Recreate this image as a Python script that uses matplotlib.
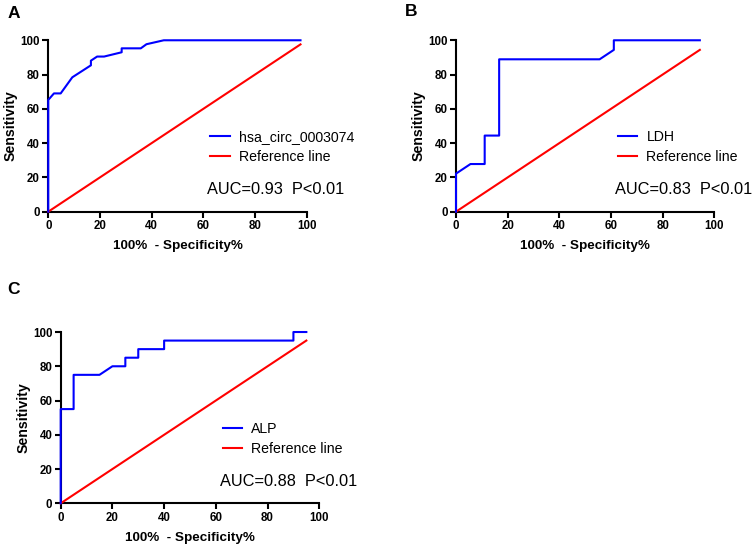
import matplotlib
matplotlib.use("Agg")
import matplotlib.pyplot as plt

plt.rcParams['font.family'] = ['Liberation Sans', 'DejaVu Sans']

# panel A: hsa_circ_0003074
a_fpr = [0, 0, 2.2, 4.8, 9.3, 16.5, 16.5, 18.9, 21.6, 28.4, 28.4, 35.8, 38.0, 44.7, 97.6]
a_sens = [0, 65.2, 69.0, 69.0, 78.4, 85.4, 88.1, 90.5, 90.5, 93.0, 95.3, 95.3, 97.7, 100, 100]
a_ref = [0, 97.6]

# panel B: LDH
b_fpr = [0, 0, 5.6, 11.1, 11.1, 16.7, 16.7, 55.6, 61.1, 61.1, 94.4]
b_sens = [0, 22.2, 27.8, 27.8, 44.4, 44.4, 88.9, 88.9, 94.4, 100, 100]
b_ref = [0, 94.4]

# panel C: ALP
c_fpr = [0, 0, 5, 5, 15, 20, 25, 25, 30, 30, 40, 40, 90, 90, 95]
c_sens = [0, 55, 55, 75, 75, 80, 80, 85, 85, 90, 90, 95, 95, 100, 100]
c_ref = [0, 95]

panels = [
    ('A', 'hsa_circ_0003074', a_fpr, a_sens, a_ref, 'AUC=0.93  P<0.01', [0.0641, 0.6116, 0.3432, 0.3145], (14, 13.5)),
    ('B', 'LDH', b_fpr, b_sens, b_ref, 'AUC=0.83  P<0.01', [0.6056, 0.6116, 0.3430, 0.3145], (411.5, 11)),
    ('C', 'ALP', c_fpr, c_sens, c_ref, 'AUC=0.88  P<0.01', [0.0806, 0.0765, 0.3434, 0.3143], (14, 289)),
]

W, H = 753, 545
fig = plt.figure(figsize=(W / 100, H / 100), dpi=100)

for letter, name, fpr, sens, ref, auc, pos, lab in panels:
    ax = fig.add_axes(pos)
    ax.plot(fpr, sens, color='#0000FF', lw=1.5, clip_on=False, zorder=5, label=name)
    ax.plot(ref, ref, color='#FF0000', lw=1.5, clip_on=False, zorder=4, label='Reference line')
    ax.set_xlim(0, 100)
    ax.set_ylim(0, 100)
    ax.set_xticks(range(0, 101, 20))
    ax.set_yticks(range(0, 101, 20))
    for s in ['top', 'right']:
        ax.spines[s].set_visible(False)
    for s in ['left', 'bottom']:
        ax.spines[s].set_linewidth(1.5)
    ax.tick_params(direction='out', length=4, width=1.5, labelsize=8.3, pad=2)
    for t in ax.get_xticklabels() + ax.get_yticklabels():
        t.set_fontweight('bold')
    ax.set_xlabel('100%  - Specificity%', fontsize=9.7, fontweight='bold', labelpad=6)
    ax.set_ylabel('Sensitivity', fontsize=10.2, fontweight='bold', labelpad=2)
    ax.legend(loc='center left', bbox_to_anchor=(0.627, 0.377), frameon=False,
              fontsize=10.2, handlelength=1.36, handletextpad=0.65, labelspacing=0.45,
              borderaxespad=0, borderpad=0)
    ax.text(0.615, 0.128, auc, transform=ax.transAxes, fontsize=11.8, va='center', ha='left')
    fig.text(lab[0] / W, 1 - lab[1] / H, letter, fontsize=12.5, fontweight='bold',
             ha='center', va='center')

fig.savefig('out.png', dpi=100)
